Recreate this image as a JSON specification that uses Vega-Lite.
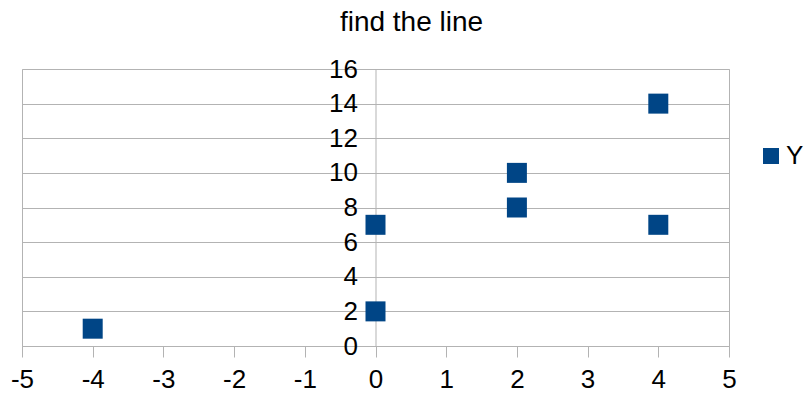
{
  "$schema": "https://vega.github.io/schema/vega-lite/v6.json",
  "width": 707,
  "height": 277,
  "autosize": {"type": "none"},
  "padding": {"left": 22, "top": 69, "right": 75, "bottom": 48},
  "background": "white",
  "title": {
    "text": "find the line",
    "font": "Liberation Sans",
    "fontSize": 28,
    "fontWeight": "normal",
    "color": "black",
    "anchor": "middle",
    "frame": "group",
    "dx": 36,
    "offset": 19
  },
  "config": {
    "view": {"stroke": "#b3b3b3", "strokeWidth": 1},
    "axis": {
      "labelFont": "Liberation Sans",
      "labelFontSize": 26,
      "labelColor": "black",
      "domainColor": "#b3b3b3",
      "tickColor": "#b3b3b3",
      "gridColor": "#b3b3b3",
      "gridOpacity": 1,
      "labelFlush": false,
      "labelOverlap": false,
      "title": null
    }
  },
  "data": {
    "values": [
      {"x": -4, "y": 1, "series": "Y"},
      {"x": 0, "y": 2, "series": "Y"},
      {"x": 0, "y": 7, "series": "Y"},
      {"x": 2, "y": 8, "series": "Y"},
      {"x": 2, "y": 10, "series": "Y"},
      {"x": 4, "y": 7, "series": "Y"},
      {"x": 4, "y": 14, "series": "Y"}
    ]
  },
  "mark": {"type": "square", "size": 400, "opacity": 1},
  "encoding": {
    "x": {
      "field": "x",
      "type": "quantitative",
      "scale": {"domain": [-5, 5], "nice": false, "zero": false},
      "axis": {
        "values": [-5, -4, -3, -2, -1, 0, 1, 2, 3, 4, 5],
        "labelExpr": "replace(datum.label, '\u2212', '-')",
        "grid": false,
        "tickSize": 11,
        "labelPadding": 9
      }
    },
    "y": {
      "field": "y",
      "type": "quantitative",
      "scale": {"domain": [0, 16], "nice": false},
      "axis": {
        "values": [0, 2, 4, 6, 8, 10, 12, 14, 16],
        "grid": true,
        "offset": -353.5,
        "tickSize": 10,
        "labelPadding": 8
      }
    },
    "color": {
      "field": "series",
      "type": "nominal",
      "scale": {"range": ["#004586"]},
      "legend": {
        "title": null,
        "orient": "none",
        "legendX": 736,
        "legendY": 74,
        "symbolType": "square",
        "symbolSize": 256,
        "symbolStrokeWidth": 0,
        "symbolOpacity": 1,
        "labelFont": "Liberation Sans",
        "labelFontSize": 26,
        "labelColor": "black",
        "labelOffset": 2
      }
    }
  }
}
